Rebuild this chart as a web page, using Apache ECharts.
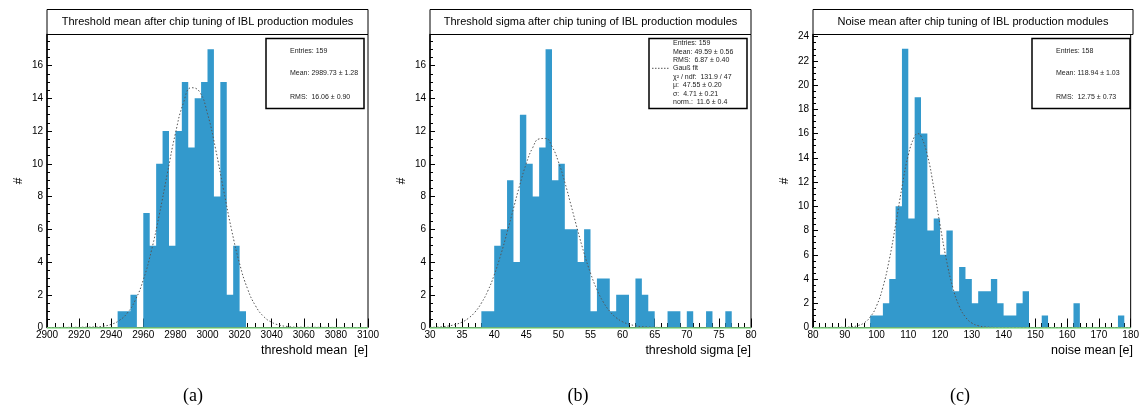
<!DOCTYPE html>
<html>
<head>
<meta charset="utf-8">
<script src="https://cdn.jsdelivr.net/npm/echarts@6/dist/echarts.min.js"></script>
<style>
html, body { margin: 0; padding: 0; background: #fff; }
#main { width: 1142px; height: 412px; }
</style>
</head>
<body>
<div id="main"></div>
<script>
// (a) threshold mean, bins of 4 e starting at 2944
var meanFirstBin = 2944, meanBinWidth = 4;
var meanCounts = [1, 1, 2, 0, 7, 5, 10, 12, 5, 12, 15, 11, 14, 15, 17, 8, 15, 2, 5, 1];
var meanFitX = [2900, 2930, 2935, 2940, 2945, 2950, 2955, 2960, 2965, 2970, 2975, 2980, 2985, 2990, 2995, 3000, 3005, 3010, 3015, 3020, 3025, 3030, 3035, 3040, 3045, 3050, 3055, 3100];
var meanFitY = [0, 0.03, 0.08, 0.19, 0.43, 0.88, 1.67, 2.91, 4.67, 6.91, 9.42, 11.85, 13.72, 14.65, 14.41, 13.06, 10.92, 8.41, 5.97, 3.90, 2.35, 1.31, 0.67, 0.32, 0.14, 0.06, 0.02, 0];

// (b) threshold sigma, bins of 1 e starting at 38
var sigmaFirstBin = 38, sigmaBinWidth = 1;
var sigmaCounts = [1, 1, 5, 6, 9, 4, 13, 10, 8, 11, 17, 9, 10, 6, 6, 4, 6, 1, 3, 3, 1, 2, 2, 0, 3, 2, 1, 0, 0, 1, 1, 0, 1, 0, 0, 1, 0, 0, 1];
var sigmaFitX = [30, 31, 32, 33, 34, 35, 36, 37, 38, 39, 40, 41, 42, 43, 44, 45, 46, 47, 48, 49, 50, 51, 52, 53, 54, 55, 56, 57, 58, 59, 60, 61, 62, 63, 64, 65, 66];
var sigmaFitY = [0.01, 0.02, 0.05, 0.10, 0.19, 0.33, 0.57, 0.94, 1.49, 2.23, 3.21, 4.41, 5.79, 7.27, 8.73, 10.02, 10.99, 11.52, 11.55, 11.06, 10.13, 8.87, 7.42, 5.94, 4.54, 3.32, 2.32, 1.55, 0.99, 0.60, 0.35, 0.20, 0.11, 0.05, 0.03, 0.01, 0.005];

// (c) noise mean, bins of 2 e starting at 98
var noiseFirstBin = 98, noiseBinWidth = 2;
var noiseCounts = [1, 1, 2, 4, 10, 23, 9, 19, 16, 8, 9, 6, 8, 3, 5, 4, 2, 3, 3, 4, 2, 1, 1, 2, 3, 0, 0, 1, 0, 0, 0, 0, 2, 0, 0, 0, 0, 0, 0, 1];
var noiseFitX = [80, 90, 92, 94, 96, 98, 100, 102, 104, 106, 108, 110, 112, 113, 114, 116, 118, 120, 122, 124, 126, 128, 130, 132, 134, 136, 138, 180];
var noiseFitY = [0, 0.02, 0.05, 0.15, 0.37, 0.86, 1.78, 3.32, 5.58, 8.46, 11.56, 14.23, 15.79, 16.0, 15.79, 14.23, 11.56, 8.46, 5.58, 3.32, 1.78, 0.86, 0.37, 0.15, 0.05, 0.02, 0.004, 0];

var titles = [
	'Threshold mean after chip tuning of IBL production modules',
	'Threshold sigma after chip tuning of IBL production modules',
	'Noise mean after chip tuning of IBL production modules'
];
var xTitles = ['threshold mean  [e]', 'threshold sigma [e]', 'noise mean [e]'];
var subLabels = ['(a)', '(b)', '(c)'];
var statsA = ['Entries: 159', 'Mean: 2989.73 \u00b1 1.28', 'RMS:  16.06 \u00b1 0.90'];
var statsB = ['Entries: 159', 'Mean: 49.59 \u00b1 0.56', 'RMS:  6.87 \u00b1 0.40', 'Gau\u00df fit',
	'\u03c7\u00b2 / ndf:  131.9 / 47', '\u03bc:  47.55 \u00b1 0.20', '\u03c3:  4.71 \u00b1 0.21', 'norm.:  11.6 \u00b1 0.4'];
var statsC = ['Entries: 158', 'Mean: 118.94 \u00b1 1.03', 'RMS:  12.75 \u00b1 0.73'];

var FONT = '"Liberation Sans", Arial, Helvetica, sans-serif';
var BAR = '#3399cc';

var panels = [
	{ left: 47, width: 321, xmin: 2900, xmax: 3100, xint: 20, xsplit: 4, ymax: 17.9, first: meanFirstBin, bw: meanBinWidth, counts: meanCounts, fx: meanFitX, fy: meanFitY },
	{ left: 430, width: 321, xmin: 30, xmax: 80, xint: 5, xsplit: 5, ymax: 17.9, first: sigmaFirstBin, bw: sigmaBinWidth, counts: sigmaCounts, fx: sigmaFitX, fy: sigmaFitY },
	{ left: 813, width: 320, xmin: 80, xmax: 180, xint: 10, xsplit: 5, ymax: 24.18, first: noiseFirstBin, bw: noiseBinWidth, counts: noiseCounts, fx: noiseFitX, fy: noiseFitY }
];
var TOP = 34.5, HEIGHT = 293;

var grids = [], xAxes = [], yAxes = [], series = [], graphics = [];

panels.forEach(function(p, i) {
	grids.push({ left: p.left, top: TOP, width: p.width, height: HEIGHT, show: true, borderColor: '#000', borderWidth: 1 });
	xAxes.push({
		type: 'value', gridIndex: i, min: p.xmin, max: p.xmax, interval: p.xint,
		axisLine: { show: false },
		axisTick: { inside: true, length: 9, lineStyle: { color: '#000', width: 1 } },
		minorTick: { show: true, splitNumber: p.xsplit, length: 4.5, lineStyle: { color: '#000', width: 1 } },
		splitLine: { show: false },
		axisLabel: { fontSize: 10, color: '#000', margin: 3, fontFamily: FONT, formatter: function(v) { return String(v); } }
	});
	yAxes.push({
		type: 'value', gridIndex: i, min: 0, max: p.ymax, interval: 2,
		name: '#', nameLocation: 'middle', nameGap: 22,
		nameTextStyle: { fontSize: 12, color: '#000', fontFamily: FONT },
		axisLine: { show: true, lineStyle: { color: '#000', width: 1.5 } },
		axisTick: { inside: true, length: 5, lineStyle: { color: '#000', width: 1 } },
		minorTick: { show: true, splitNumber: 4, length: 3, lineStyle: { color: '#000', width: 1 } },
		splitLine: { show: false },
		axisLabel: { fontSize: 10, color: '#000', margin: 4, fontFamily: FONT, showMaxLabel: false }
	});
	// histogram as a filled step outline (one path, no seams between bins)
	var steps = p.counts.map(function(c, k) { return [p.first + k * p.bw, c]; });
	steps.push([p.first + p.counts.length * p.bw, 0]);
	series.push({
		type: 'line', xAxisIndex: i, yAxisIndex: i, step: 'end', data: steps, z: 2,
		showSymbol: false, silent: true,
		lineStyle: { width: 0, opacity: 0 },
		areaStyle: { color: BAR, opacity: 1 },
		markLine: {
			silent: true, symbol: 'none', label: { show: false },
			lineStyle: { color: '#8ee08e', type: 'solid', width: 1.5 },
			data: [{ yAxis: 0 }]
		}
	});
	// gaussian fit
	series.push({
		type: 'line', xAxisIndex: i, yAxisIndex: i, smooth: true, showSymbol: false, z: 3,
		lineStyle: { color: '#555', width: 1, type: [1.5, 2] },
		data: p.fx.map(function(x, k) { return [x, p.fy[k]]; })
	});
	// title box
	graphics.push({ type: 'rect', shape: { x: p.left, y: 9.5, width: p.width, height: TOP - 9.5 }, style: { fill: '#fff', stroke: '#000', lineWidth: 1 } });
	graphics.push({ type: 'text', x: p.left + p.width / 2, y: 22, style: { text: titles[i], fontSize: 11, fontFamily: FONT, fill: '#000', align: 'center', verticalAlign: 'middle' } });
	// x title
	graphics.push({ type: 'text', x: p.left + p.width, y: 351, style: { text: xTitles[i], fontSize: 12.5, fontFamily: FONT, fill: '#000', align: 'right', verticalAlign: 'middle' } });
	// sub label
	graphics.push({ type: 'text', x: [193, 578, 960][i], y: 396, style: { text: subLabels[i], fontSize: 18, fontFamily: '"Liberation Serif", "Times New Roman", serif', fill: '#000', align: 'center', verticalAlign: 'middle' } });
});

function statsBox(x, lines, textX, ys) {
	graphics.push({ type: 'rect', z: 10, shape: { x: x, y: 38.5, width: 98, height: 70 }, style: { fill: '#fff', stroke: '#000', lineWidth: 1.5 } });
	lines.forEach(function(t, k) {
		graphics.push({ type: 'text', z: 11, x: textX, y: ys[k], style: { text: t, fontSize: 7, fontFamily: FONT, fill: '#222', verticalAlign: 'middle' } });
	});
}
statsBox(266, statsA, 290, [50.7, 73.5, 96.7]);
statsBox(649, statsB, 673, [43.3, 51.7, 60, 68.3, 76.8, 85.3, 93.7, 102]);
statsBox(1032, statsC, 1056, [50.7, 73.5, 96.7]);
graphics.push({ type: 'line', z: 11, shape: { x1: 652, y1: 68.3, x2: 670, y2: 68.3 }, style: { stroke: '#555', lineWidth: 1, lineDash: [1.5, 1.5] } });

var chart = echarts.init(document.getElementById('main'));
chart.setOption({
	animation: false,
	backgroundColor: '#fff',
	grid: grids,
	xAxis: xAxes,
	yAxis: yAxes,
	series: series,
	graphic: graphics
});
</script>
</body>
</html>
